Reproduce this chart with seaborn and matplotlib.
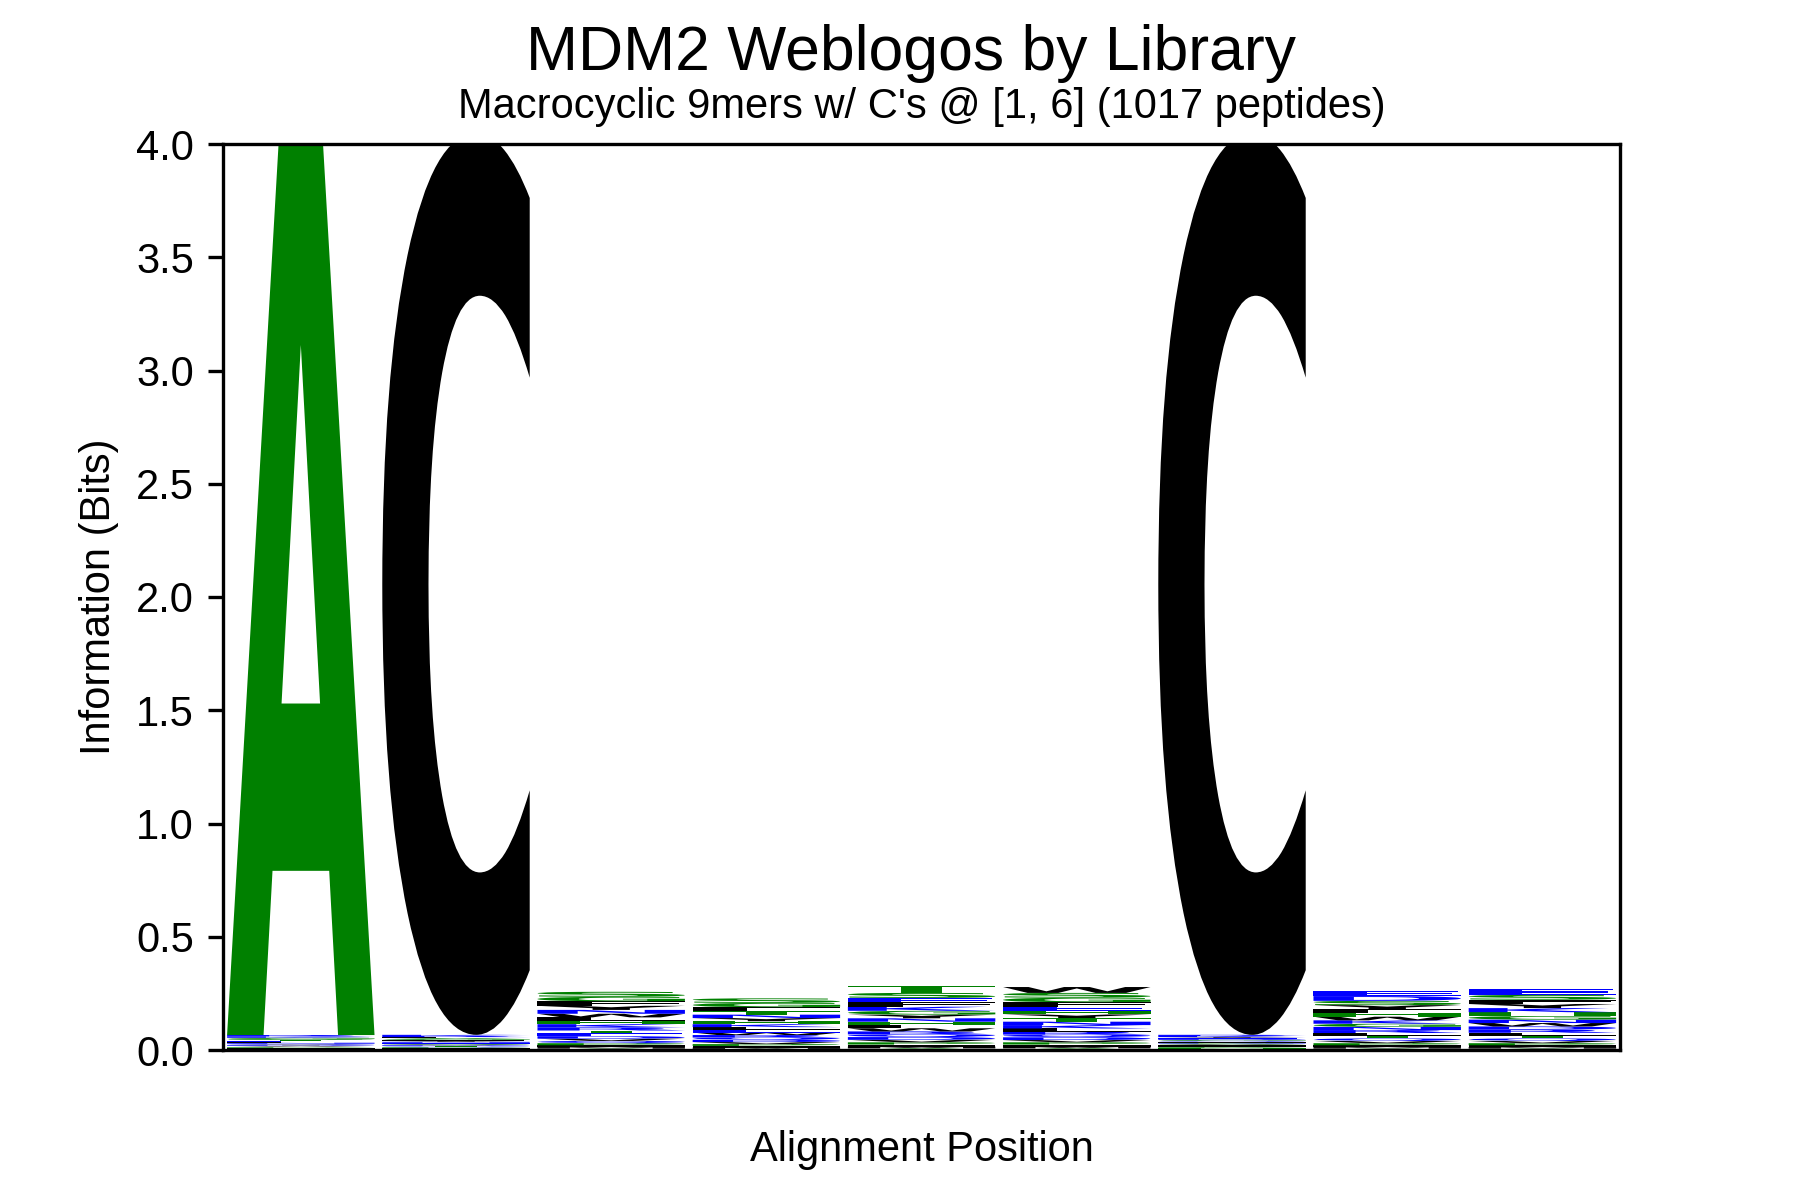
import numpy as np
import pandas as pd
import seaborn as sns
import matplotlib.pyplot as plt
from matplotlib.textpath import TextPath
from matplotlib.patches import PathPatch
from matplotlib.font_manager import FontProperties
from matplotlib.transforms import Affine2D

# amino acids (column order of every position array below)
aa = list("ACDEFGHIKLMNPQRSTVWY")

# information (bits) per letter, read off the logo
#          A      C      D      E      F      G      H      I      K      L      M      N      P      Q      R      S      T      V      W      Y
pos1 = [3.980, 0.000, 0.003, 0.004, 0.003, 0.005, 0.002, 0.003, 0.006, 0.004, 0.002, 0.004, 0.003, 0.004, 0.006, 0.005, 0.004, 0.003, 0.002, 0.003]
pos2 = [0.004, 3.980, 0.003, 0.004, 0.004, 0.004, 0.002, 0.003, 0.005, 0.005, 0.002, 0.004, 0.003, 0.003, 0.005, 0.004, 0.003, 0.003, 0.002, 0.004]
pos3 = [0.006, 0.000, 0.011, 0.012, 0.020, 0.020, 0.015, 0.008, 0.014, 0.015, 0.007, 0.017, 0.009, 0.010, 0.014, 0.022, 0.013, 0.010, 0.016, 0.018]
pos4 = [0.005, 0.000, 0.010, 0.012, 0.017, 0.019, 0.013, 0.007, 0.013, 0.012, 0.006, 0.015, 0.008, 0.010, 0.011, 0.020, 0.016, 0.009, 0.011, 0.014]
pos5 = [0.007, 0.000, 0.012, 0.020, 0.019, 0.017, 0.015, 0.009, 0.018, 0.014, 0.008, 0.015, 0.010, 0.012, 0.013, 0.022, 0.030, 0.011, 0.014, 0.016]
pos6 = [0.007, 0.000, 0.012, 0.018, 0.019, 0.020, 0.017, 0.009, 0.015, 0.014, 0.008, 0.015, 0.010, 0.012, 0.013, 0.021, 0.016, 0.010, 0.026, 0.016]
pos7 = [0.003, 3.980, 0.004, 0.004, 0.003, 0.004, 0.003, 0.003, 0.005, 0.004, 0.002, 0.004, 0.003, 0.004, 0.005, 0.004, 0.003, 0.003, 0.002, 0.004]
pos8 = [0.006, 0.000, 0.021, 0.024, 0.017, 0.014, 0.016, 0.008, 0.015, 0.012, 0.007, 0.014, 0.009, 0.011, 0.013, 0.019, 0.012, 0.010, 0.016, 0.018]
pos9 = [0.006, 0.000, 0.014, 0.025, 0.019, 0.016, 0.017, 0.008, 0.018, 0.013, 0.007, 0.015, 0.009, 0.011, 0.014, 0.021, 0.012, 0.010, 0.015, 0.018]

positions = [pos1, pos2, pos3, pos4, pos5, pos6, pos7, pos8, pos9]

# hydrophobicity colour scheme
hydrophilic = "RKDENQ"
neutral = "SGHTAP"
hydrophobic = "YVMCLFIW"


def letter_color(c):
    if c in hydrophilic:
        return "blue"
    if c in neutral:
        return "green"
    return "black"


info = pd.DataFrame(np.array(positions), columns=aa)

sns.set_style("ticks", {"axes.edgecolor": "black", "xtick.color": "black",
                        "ytick.color": "black", "text.color": "black",
                        "axes.labelcolor": "black"})
plt.rcParams['font.family'] = ['Liberation Sans', 'DejaVu Sans']
plt.rcParams['axes.linewidth'] = 0.8
plt.rcParams['ytick.major.width'] = 0.8
plt.rcParams['ytick.major.size'] = 3.5

fig, ax = plt.subplots(figsize=(6, 4), dpi=300)
fig.subplots_adjust(left=0.124, right=0.9, top=0.88, bottom=0.125)

glyph_font = FontProperties(family="DejaVu Sans", weight="bold")
glyph_width = 0.95


def draw_glyph(ax, c, x, y, h, color):
    tp = TextPath((0, 0), c, size=1, prop=glyph_font)
    bb = tp.get_extents()
    tr = (Affine2D()
          .translate(-bb.x0, -bb.y0)
          .scale(glyph_width / bb.width, h / bb.height)
          .translate(x - glyph_width / 2, y))
    patch = PathPatch(tr.transform_path(tp), facecolor=color,
                      edgecolor="none", lw=0)
    ax.add_patch(patch)


for i, row in info.iterrows():
    col = row[row > 0].sort_values()  # big on top
    bottom = 0.0
    for c, h in col.items():
        draw_glyph(ax, c, i, bottom, h, letter_color(c))
        bottom += h

ax.set_xlim(-0.5, len(positions) - 0.5)
ax.set_ylim(0, 4)
ax.set_yticks(np.arange(0, 4.01, 0.5))
ax.set_yticklabels([f"{v:.1f}" for v in np.arange(0, 4.01, 0.5)], fontsize=10)
ax.set_xticks([])
ax.set_ylabel("Information (Bits)", fontsize=10)
ax.set_xlabel("Alignment Position", fontsize=10, labelpad=19.2)
ax.set_title("Macrocyclic 9mers w/ C's @ [1, 6] (1017 peptides)", fontsize=10, pad=6.2)
fig.suptitle("MDM2 Weblogos by Library", fontsize=15, x=0.506, y=1 - 70 / 1200, va="baseline")

fig.savefig("out.png", dpi=300)
